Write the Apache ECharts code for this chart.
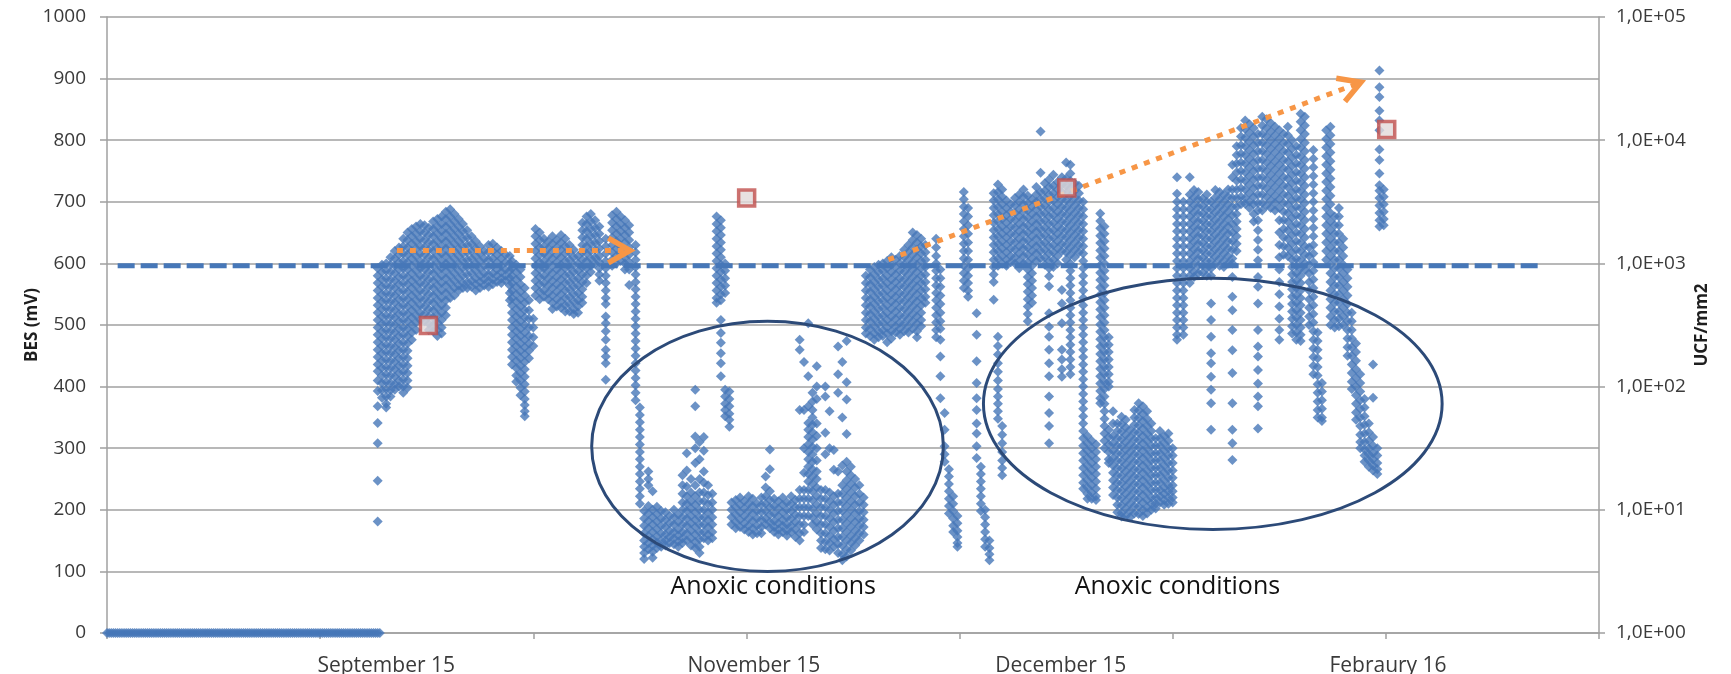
<!DOCTYPE html>
<html>
<head>
<meta charset="utf-8">
<title>BES and UCF/mm2</title>
<script src="https://cdn.jsdelivr.net/npm/echarts@6/dist/echarts.min.js"></script>
<style>
  html, body { margin: 0; padding: 0; background: #fff; }
  #chart { width: 1731px; height: 674px; }
</style>
</head>
<body>
<div id="chart"></div>
<script>
// x = sample position along the campaign (axis 0..700), y = BES in mV
// probe offline at start: every sample reads 0 mV
const offlineTimes = [0,1,2,3,4,5,6,7,8,9,10,11,12,13,14,15,16,17,18,19,20,21,22,23,24,25,26,27,28,29,30,
  31,32,33,34,35,36,37,38,39,40,41,42,43,44,45,46,47,48,49,50,51,52,53,54,55,56,57,58,59,60,61,62,63,64,
  65,66,67,68,69,70,71,72,73,74,75,76,77,78,79,80,81,82,83,84,85,86,87,88,89,90,91,92,93,94,95,96,97,98,
  99,100,101,102,103,104,105,106,107,108,109,110,111,112,113,114,115,116,117,118,119,120,121,122,123,124,
  125,126,127,128];

// each column: [time, reading, reading, ...]
const septemberColumns = [
  [127,592,580,568,556,544,532,520,508,496,484,472,460,448,436,425,410,393,368,341,308,247,181],
  [129,598,586,574,562,550,538,526,514,502,490,478,466,454,442,430,418,406,394,382],
  [131,600,588,576,564,552,540,528,516,504,492,480,468,456,444,432,420,408,396,384,372,366],
  [133,610,598,586,574,562,550,538,526,514,502,490,478,466,454,442,430,418,406,394,384],
  [135,620,608,596,584,572,560,548,536,524,512,500,488,476,464,452,440,428,416,404,395],
  [137,626,614,602,590,578,566,554,542,530,518,506,494,482,470,458,446,434,422,410,400],
  [139,640,628,616,604,592,580,568,556,544,532,520,508,496,484,472,460,448,436,424,412,400,390],
  [141,650,638,626,614,602,590,578,566,554,542,530,518,506,494,482,470,458,446,434,422,410,398],
  [143,656,644,632,620,608,596,584,572,560,548,536,524,512,500,488,476],
  [145,660,648,636,624,612,600,588,576,564,552,540,528,516,504,492],
  [147,664,652,640,628,616,604,592,580,568,556,544,532,520,508],
  [149,662,650,638,626,614,602,590,578,566,554,542,530,518,506],
  [151,658,646,634,622,610,598,586,574,562,550,538,526,514,502,492],
  [153,668,656,644,632,620,608,596,584,572,560,548,536,524,512,500,490],
  [155,672,660,648,636,624,612,600,588,576,564,552,540,528,516,504,492,482],
  [157,676,664,652,640,628,616,604,592,580,568,556,544,532,520,508,496,486],
  [159,684,672,660,648,636,624,612,600,588,576,564,552,540,528,516],
  [161,688,676,664,652,640,628,616,604,592,580,568,556,544],
  [163,680,668,656,644,632,620,608,596,584,572,560,548],
  [165,672,660,648,636,624,612,600,588,576,564,556],
  [167,664,652,640,628,616,604,592,580,568,560],
  [169,654,642,630,618,606,594,582,570,560],
  [171,644,632,620,608,596,584,572,562],
  [173,636,624,612,600,588,576,566,556],
  [175,628,616,604,592,580,570,560],
  [177,620,608,596,584,574,564],
  [179,630,618,606,594,582,572,562],
  [181,632,620,608,596,584,574,566],
  [183,626,614,602,590,580,570],
  [185,620,608,596,586,576,568],
  [187,614,602,590,580,572],
  [189,612,600,588,576,564,552,540],
  [190,604,592,580,568,556,544,532,520,508,496,484,472,460,448,436],
  [192,598,586,574,562,550,538,526,514,502,490,478,466,454,442,430,418,408],
  [194,590,578,566,554,542,530,518,506,494,482,470,458,446,434,422,410,398,386],
  [196,560,548,536,524,512,500,488,476,464,452,440,428,416,404,392,380,370,360,352],
  [198,540,524,510,496,482,470,458,446],
  [200,510,496,480,466]
];

const octoberColumns = [
  [201,656,644,632,620,608,596,584,572,560,548],
  [203,650,638,626,614,602,590,578,566,554,542],
  [205,640,628,616,604,592,580,568,556,546],
  [207,636,624,612,600,588,576,564,552,542],
  [209,644,632,620,608,596,584,572,560,548,536,526],
  [211,638,626,614,602,590,578,566,554,542,530],
  [213,646,634,622,610,598,586,574,562,550,538,528],
  [215,640,628,616,604,592,580,568,556,544,532,522],
  [217,630,618,606,594,582,570,558,546,534,522],
  [219,622,610,598,586,574,562,550,538,526,518],
  [221,612,600,588,576,564,552,540,530,520],
  [223,666,654,642,630,618,606,594,582,570,558,546,536],
  [225,676,664,652,640,628,616,604,592,580,568],
  [227,680,668,656,644,632,620,608,596,586],
  [229,670,658,646,634,622,610,600],
  [231,660,648,636,624,612,602,592,582,572],
  [234,640,628,616,604,592,580,568,556,544,534,514,503,490,476,460,449,438,411],
  [237,678,666,654,642,630,618,606,596],
  [239,684,672,660,648,636,624,612,600],
  [241,676,664,652,640,628,616,604],
  [243,670,658,646,634,622,610,600,590],
  [245,662,650,638,626,614,602,590,565],
  [248,630,618,606,594,582,570,558,546,534,522,510,498,486,474,462,450,438,426,414,402,390,378],
  [250,366,354,342,330,318,306,294,282,270,258,246,234,222,210],
  [252,198,186,174,162,150,140,130,120]
];

const novemberColumns = [
  [254,262,250,240,206,194,182,170,158,146,136],
  [256,230,200,188,176,164,152,142,132,122],
  [258,205,193,181,169,157,147,138],
  [260,198,186,174,162,150,140],
  [262,196,184,172,160,150,142],
  [264,190,178,166,156,146],
  [266,200,188,176,164,154,144],
  [268,192,180,168,158,148,140],
  [270,256,240,226,212,200,188,176,164,154,146],
  [272,292,264,238,222,210,198,186,174,162,150],
  [274,250,228,214,202,190,178,166,154,142],
  [276,395,368,319,300,276,240,222,208,196,184,172,160,148,138],
  [278,310,282,250,228,214,200,188,176,164,152,140,130],
  [280,318,296,262,244,228,214,200,188,176,164,154],
  [282,240,224,210,196,184,172,160,150],
  [284,226,212,200,188,176,164,154],
  [286,676,664,652,640,628,616,604,592,580,568,556,544,536],
  [288,670,658,646,634,622,610,598,586,574,562,550,540,508,487,471,454,438,417],
  [290,600,588,576,564,552,395,384,372,362,352],
  [292,392,380,368,356,346,335],
  [293,212,200,188,176],
  [295,216,204,192,180,170],
  [297,220,208,196,184,172],
  [299,214,202,190,178,168],
  [301,222,210,198,186,174,164],
  [303,218,206,194,182,170,160],
  [305,210,198,186,174,162],
  [307,220,208,196,184,172,162],
  [309,254,236,222,210,198,186,176],
  [311,298,266,230,216,204,192,180,170],
  [313,218,206,194,182,172,164],
  [315,214,202,190,178,168,160],
  [317,220,208,196,184,174,164],
  [319,212,200,188,176,166,158],
  [321,222,210,198,186,174,164],
  [323,216,204,192,180,168,156],
  [325,476,460,362,232,218,204,190,176,162,150],
  [327,440,362,300,260,232,218,204,190,176,164],
  [329,503,417,368,341,330,318,306,294,282,270,258,246,232,218,204,190],
  [331,390,376,362,350,338,326,314,302,290,278,266,254,242,230,216,202,188,176],
  [333,433,400,380,340,320,300,280,262,250,236,222,208,194,180,168],
  [335,232,218,204,190,176,162,150,138],
  [337,400,384,325,290,232,218,204,190,176,162,148,136],
  [339,360,300,228,214,200,186,172,158,146,134],
  [341,297,265,222,208,194,180,166,152,140],
  [343,465,420,390,262,226,212,198,184,170,156,144,130],
  [345,440,350,272,240,226,212,198,184,170,156,142,128,118],
  [347,474,407,379,323,278,262,248,234,220,206,192,178,164,150,136,124],
  [349,270,256,242,228,214,200,186,172,158,146,134],
  [351,250,236,222,208,194,180,166,154,142],
  [353,240,226,212,198,186,174,162,150],
  [355,220,208,196,184,172,160]
];

const decemberColumns = [
  [356,580,568,556,544,532,520,508,496,486],
  [358,590,578,566,554,542,530,518,506,494,482],
  [360,594,582,570,558,546,534,522,510,498,486,476],
  [362,598,586,574,562,550,538,526,514,502,490,480],
  [364,600,588,576,564,552,540,528,516,504,492,482],
  [366,604,592,580,568,556,544,532,520,508,496,486,472],
  [368,610,598,586,574,562,550,538,526,514,502,490,478],
  [370,606,594,582,570,558,546,534,522,510,498,488],
  [372,612,600,588,576,564,552,540,528,516,504,494,484],
  [374,622,610,598,586,574,562,550,538,526,514,502,490],
  [376,630,618,606,594,582,570,558,546,534,522,510,498,488],
  [378,650,638,626,614,602,590,578,566,554,542,530,518,506,494],
  [380,646,634,622,610,598,586,574,562,550,538,526,514,502,490,480],
  [382,640,628,616,604,592,580,568,556,544,532,520,508,498],
  [384,630,618,606,594,582,570,558,546,536],
  [389,640,626,612,600,588,576,564,552,540,528,516,504,492,480],
  [391,590,576,562,548,534,520,506,494,476,449,417,381],
  [393,357,330,303,290,278],
  [395,266,254,242,230,218,206,194],
  [397,222,210,198,186,174,164],
  [399,190,178,166,156,146,140],
  [402,716,704,692,680,668,656,644,632,620,608,596,584,572,560],
  [404,690,676,662,648,634,620,606,592,580,568,556,546],
  [408,519,484,441,406,381,362,340,324,303,284],
  [410,270,258,246,234,222,210,198],
  [412,200,188,176,164,152,140],
  [414,150,138,128,118],
  [416,714,702,690,678,666,654,642,630,618,606,594,582,570,541],
  [418,728,716,704,692,680,668,656,644,632,620,608,596,481,466,452,438,424,410,396,384,372,360,348],
  [420,720,708,696,684,672,660,648,636,624,612,600,336,322,308,294,280,268,256],
  [422,702,690,678,666,654,642,630,618,606,596],
  [424,696,684,672,660,648,636,624,612,602],
  [426,706,694,682,670,658,646,634,622,610,600],
  [428,712,700,688,676,664,652,640,628,616,604,592],
  [430,720,708,696,684,672,660,648,636,624,612,600],
  [432,710,698,686,674,662,650,638,626,614,602,590,578,566,554,542,530,518,506],
  [434,704,692,680,668,656,644,632,620,608,596,584,572,560,548,536],
  [436,724,712,700,688,676,664,652,640,628,616,604],
  [438,814,747,716,704,692,680,668,656,644,632,620,608],
  [440,730,718,706,694,682,670,658,646,634,622,610,598],
  [442,736,724,712,700,688,676,664,652,640,628,616,604,592,579,563,519,497,481,460,438,417,384,357,336,308],
  [444,744,726,714,702,690,678,666,654,642,630,618,606,594],
  [446,732,720,708,696,684,672,660,648,636,624,612,600],
  [448,740,728,716,704,692,680,668,656,644,632,620,557,535,503,460,444,428,416],
  [450,764,738,726,714,702,690,678,666,654,642,630,618,606],
  [452,760,746,734,722,710,698,686,674,662,650,638,626,614,600,588,576,564,552,540,528,516,504,492,480,468,456,444,432,420],
  [454,730,718,706,694,682,670,658,646,634,622,610],
  [456,726,714,702,690,678,666,654,642,630,618]
];

const januaryColumns = [
  [458,700,688,676,664,652,640,628,616,604,592,580,568,556,544,532,520,508,496,484,472,460,448,436,424,412,400,388,376,364,352,340,328,316,304,292,280,268,256,244,234],
  [460,320,308,296,284,272,260,248,236,226,218],
  [462,312,300,288,276,264,252,240,228,218],
  [464,306,294,282,270,258,246,234,222,216],
  [466,681,669,657,645,633,621,609,597,585,573,561,549,537,525,513,501,489,477,465,453,441,429,417,405,393,381,373],
  [468,660,648,636,624,612,600,588,576,564,552,540,528,516,504,492,480,468,456,444,432,420,408,396,384,372,360,348,336,324,312,300],
  [470,480,468,456,444,432,420,408,400,330,318,306,294,282,276],
  [472,360,340,320,308,296,284,272,260,248,236,224],
  [474,340,328,316,304,292,280,268,256,244,232,220,208,196],
  [476,351,339,327,315,303,291,279,267,255,243,231,219,207,195,189],
  [478,346,334,322,310,298,286,274,262,250,238,226,214,202,190],
  [480,330,318,306,294,282,270,258,246,234,222,210,198,188],
  [482,362,350,338,326,314,302,290,278,266,254,242,230,218,206,194],
  [484,373,361,349,337,325,313,301,289,277,265,253,241,229,217,205,193],
  [486,368,356,344,332,320,308,296,284,272,260,248,236,224,212,200,190],
  [488,360,348,336,324,312,300,288,276,264,252,240,228,216,204,194],
  [490,340,328,316,304,292,280,268,256,244,232,220,210,200],
  [492,316,304,292,280,268,256,244,232,220,210,202],
  [494,328,316,304,292,280,268,256,244,232,222,212],
  [496,320,308,296,284,272,260,248,236,226,216,208],
  [498,324,312,300,288,276,264,252,240,230,220,210],
  [500,300,288,276,264,252,240,230,220,212],
  [502,740,713,700,688,676,664,652,640,628,616,604,592,580,568,556,544,532,520,508,496,484,476],
  [505,700,688,676,664,652,640,628,616,604,592,580,568,556,544,532,520,508,496,484],
  [508,740,712,700,688,676,664,652,640,628,616,604,592,580,568],
  [510,719,707,695,683,671,659,647,635,623,611,599,587,578],
  [512,716,704,692,680,668,656,644,632,620,608,596,584],
  [514,705,693,681,669,657,645,633,621,609,597,585],
  [516,712,700,688,676,664,652,640,628,616,604,592,580],
  [518,700,688,676,664,652,640,628,616,604,592,580,535,508,481,454,438,416,395,373,330],
  [520,719,707,695,683,671,659,647,635,623,611,599],
  [522,716,704,692,680,668,656,644,632,620,608,596],
  [524,712,700,688,676,664,652,640,628,616,604,594],
  [526,720,708,696,684,672,660,648,636,624,612,600],
  [528,760,740,720,706,692,678,664,650,636,622,608,600,578,546,524,492,459,422,373,330,308,281],
  [530,790,776,762,748,734,720,706,692,680,668,656,644,632,620],
  [532,820,806,792,778,764,750,736,722,708,696],
  [534,832,818,804,790,776,762,748,734,720,706,697],
  [536,826,812,798,784,770,756,742,728,714,700,690],
  [538,820,806,792,778,764,750,736,722,708,696,680,668],
  [540,810,796,782,768,754,740,726,712,698,686,670,654,638,622,605,578,562,535,492,465,449,427,405,384,368,332],
  [542,838,824,810,796,782,768,754,740,726,712,698,686],
  [544,834,820,806,792,778,764,750,736,722,708,694],
  [546,828,814,800,786,772,758,744,730,716,702,690],
  [548,822,808,794,780,766,752,738,724,710,698,686],
  [550,816,802,788,774,760,746,732,718,704,690,670,650,630,610,590,570,550,530,510,492,476],
  [552,810,796,782,768,754,740,726,712,698,684,670,656,642,628,614],
  [554,822,808,794,780,766,752,738,724,710,696,682,668,654,640,626,612],
  [556,800,786,772,758,744,730,716,702,688,674,660,646,632,618,606,594,582,570,558,546,534,522,510,498,486],
  [558,790,776,762,748,734,720,706,692,678,664,650,636,622,608,596,584,572,560,548,536,524,512,500,488,476],
  [560,843,830,816,802,788,774,760,746,732,718,704,690,676,662,648,634,620,606,592,580,568,556,544,532,520,508,496,484,474],
  [562,838,824,810,796,782,768,754,740,726,712,698,684,670,656,642,628,614,600,589],
  [564,626,612,598,584,570,556,542,528,514,500],
  [566,784,770,756,742,728,714,700,686,672,658,644,630,616,602,588,574,560,546,532,518,504,490,476,462,448,434,420],
  [568,488,474,460,446,432,418,404,390,376,362,350],
  [570,406,392,378,364,350,344],
  [572,816,802,788,774,760,746,732,718,704,690,676,662,648,634,620,606],
  [574,822,808,794,780,766,752,738,724,710,696,682,668,654,640,626,612,598,584,570,556,542,528,514,500],
  [576,676,662,648,634,620,606,592,578,564,550,536,522,508,496],
  [578,690,676,662,648,634,620,606,592,578,564,550,536,522,510,498],
  [580,640,626,612,598,584,570,556,542,528,514,500],
  [582,590,576,562,548,534,520,506,492,478,464,450],
  [584,520,506,492,478,464,450,436,422,408,396],
  [586,470,456,442,428,414,400,386,372,358,346],
  [588,420,406,392,378,364,350,336,322,310,300],
  [590,380,366,352,338,324,310,298,288,278],
  [592,340,326,312,300,290,280,270],
  [594,436,382,318,304,292,282,272,264],
  [596,300,288,276,266,258]
];

const februaryColumns = [
  [597,913,886,870,848,832,816,785,768,746,727,718,706,694,682,670,660],
  [599,720,708,696,684,672,662]
];

// UCF/mm2 samples (right log axis)
const ucfTimes = [150.8, 300.1, 450.3, 600.4];
const ucfValues = [313, 3390, 4100, 12200];

// BES reference level (dashed line)
const besThreshold = 596;
const thresholdSpan = [5, 674];

const dateLabelTimes = [131, 303.5, 447.5, 601];
const dateLabels = ['September 15', 'November 15', 'December 15', 'Febraury 16'];
const tickTimes = [0, 100, 200, 300, 400, 500, 600, 700];

// annotations (data coordinates)
const anoxicZones = [
  { center: [309.9, 303], radius: [82.5, 203] },
  { center: [518.8, 372], radius: [107.6, 204] }
];
const anoxicTextPos = [[312.6, 75], [502.2, 75]];
const anoxicText = 'Anoxic conditions';
const trendArrows = [
  [136, 621, 245.4, 621],
  [366.6, 606, 588.3, 894]
];

const FONT = '"Open Sans", sans-serif';
const BLUE = '#4677b8';
const ORANGE = '#f79646';
const GRID_GREY = '#a0a0a0';

const toPoints = cols => cols.flatMap(([t, ...vals]) => vals.map(v => [t, v]));
const besPoints = offlineTimes.map(t => [t, 0]).concat(
  toPoints(septemberColumns), toPoints(octoberColumns), toPoints(novemberColumns),
  toPoints(decemberColumns), toPoints(januaryColumns), toPoints(februaryColumns)
);

const chart = echarts.init(document.getElementById('chart'), null, { renderer: 'canvas' });

const option = {
  animation: false,
  backgroundColor: '#fff',
  grid: { left: 107, right: 132, top: 17, bottom: 41, containLabel: false, outerBoundsMode: 'none' },
  xAxis: {
    type: 'value', min: 0, max: 700, interval: 100,
    axisLine: { show: true, onZero: false, lineStyle: { color: GRID_GREY, width: 1.5 } },
    axisTick: { show: true, length: 6, customValues: tickTimes, lineStyle: { color: GRID_GREY, width: 1.5 } },
    axisLabel: {
      customValues: dateLabelTimes,
      formatter: v => dateLabels[dateLabelTimes.indexOf(v)] || '',
      margin: 23, fontSize: 21, color: '#3a3a3a', fontFamily: FONT
    },
    splitLine: { show: false }
  },
  yAxis: [
    {
      type: 'value', min: 0, max: 1000, interval: 100, position: 'left',
      name: 'BES (mV)', nameLocation: 'middle', nameRotate: 90, nameGap: 66, nameMoveOverlap: false,
      nameTextStyle: { fontWeight: 'bold', fontSize: 17, fontFamily: FONT, color: '#1e1e1e' },
      axisLine: { show: true, lineStyle: { color: GRID_GREY, width: 1.5 } },
      axisTick: { show: true, length: 7, lineStyle: { color: GRID_GREY, width: 1.5 } },
      axisLabel: { margin: 21, fontSize: 19, color: '#3a3a3a', fontFamily: FONT, formatter: v => String(v) },
      splitLine: { show: true, lineStyle: { color: GRID_GREY, width: 1.5 } }
    },
    {
      type: 'log', logBase: 10, min: 1, max: 100000, position: 'right',
      name: 'UCF/mm2', nameLocation: 'middle', nameRotate: 90, nameGap: 95, nameMoveOverlap: false,
      nameTextStyle: { fontWeight: 'bold', fontSize: 17, fontFamily: FONT, color: '#1e1e1e' },
      axisLine: { show: true, lineStyle: { color: GRID_GREY, width: 1.5 } },
      axisTick: { show: true, length: 6, lineStyle: { color: GRID_GREY, width: 1.5 } },
      axisLabel: {
        margin: 17, fontSize: 19, color: '#3a3a3a', fontFamily: FONT,
        formatter: v => '1,0E+' + String(Math.round(Math.log10(v))).padStart(2, '0')
      },
      splitLine: { show: false }
    }
  ],
  series: [
    {
      name: 'BES', type: 'scatter', data: besPoints, clip: false,
      symbol: 'diamond', symbolSize: [10, 10], large: false,
      itemStyle: { color: BLUE }, z: 2, silent: true
    },
    {
      name: 'threshold', type: 'line', symbol: 'none', z: 3, silent: true,
      data: [[thresholdSpan[0], besThreshold], [thresholdSpan[1], besThreshold]],
      lineStyle: { color: BLUE, width: 5, type: [17, 6], cap: 'butt' }
    },
    {
      name: 'zones', type: 'custom', z: 4, silent: true, clip: false,
      data: anoxicZones.map(zn => [zn.center[0], zn.center[1], zn.radius[0], zn.radius[1]]),
      encode: { x: 0, y: 1 },
      renderItem: (params, api) => {
        const c = api.coord([api.value(0), api.value(1)]);
        const s = api.size([api.value(2), api.value(3)]);
        return {
          type: 'ellipse',
          shape: { cx: c[0], cy: c[1], rx: s[0], ry: s[1] },
          style: { fill: 'none', stroke: '#2c4a78', lineWidth: 3 }
        };
      }
    },
    {
      name: 'arrows', type: 'custom', z: 5, silent: true, clip: false,
      data: trendArrows,
      encode: { x: [0, 2], y: [1, 3] },
      renderItem: (params, api) => {
        const p0 = api.coord([api.value(0), api.value(1)]);
        const p1 = api.coord([api.value(2), api.value(3)]);
        const a = Math.atan2(p1[1] - p0[1], p1[0] - p0[0]);
        const len = 25, spread = 0.52;
        const arm = t => [p1[0] - len * Math.cos(a + t), p1[1] - len * Math.sin(a + t)];
        return {
          type: 'group',
          children: [
            {
              type: 'line',
              shape: { x1: p0[0], y1: p0[1], x2: p1[0] - 4 * Math.cos(a), y2: p1[1] - 4 * Math.sin(a) },
              style: { stroke: ORANGE, lineWidth: 5, lineDash: [6, 7], lineCap: 'butt' }
            },
            {
              type: 'polyline',
              shape: { points: [arm(spread), p1, arm(-spread)] },
              style: { stroke: ORANGE, lineWidth: 5.5, fill: 'none', lineJoin: 'miter' }
            }
          ]
        };
      }
    },
    {
      name: 'labels', type: 'custom', z: 6, silent: true, clip: false,
      data: anoxicTextPos,
      encode: { x: 0, y: 1 },
      renderItem: (params, api) => {
        const p = api.coord([api.value(0), api.value(1)]);
        return {
          type: 'text', x: p[0], y: p[1],
          style: { text: anoxicText, fill: '#111', font: '25px ' + FONT, align: 'center', verticalAlign: 'middle' }
        };
      }
    },
    {
      name: 'UCF/mm2', type: 'scatter', yAxisIndex: 1, z: 7, silent: true,
      data: ucfTimes.map((t, i) => [t, ucfValues[i]]),
      symbol: 'rect', symbolSize: 16,
      itemStyle: { color: '#e2dada', borderColor: '#c0504d', borderWidth: 3.5 }
    }
  ]
};

chart.setOption(option);
</script>
</body>
</html>
